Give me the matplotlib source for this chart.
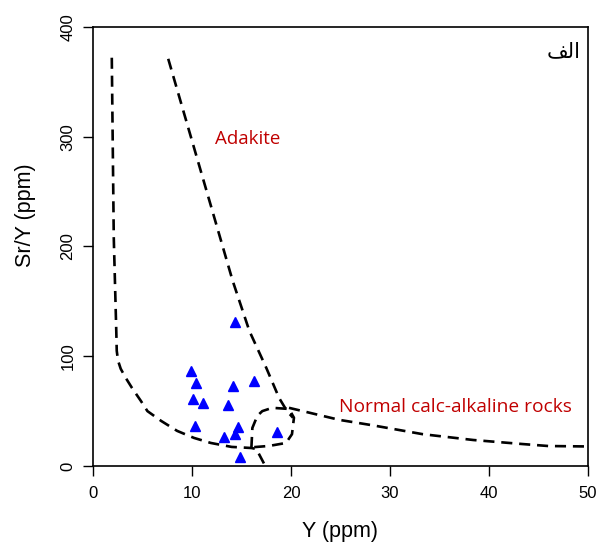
import matplotlib
matplotlib.use('Agg')
import matplotlib.pyplot as plt
import numpy as np

# samples: Y (ppm) and Sr/Y
sampleY = [14.3, 9.9, 10.4, 14.1, 16.3, 10.1, 11.1, 13.6, 10.3, 14.6, 14.3, 13.2, 14.9, 18.6]
sampleSrY = [131, 87, 76, 73, 77, 61, 57, 56, 36.5, 35.6, 29, 26.5, 8.2, 31]

# field boundaries (Defant & Drummond)
adakiteLineX = [7.6, 14.1, 15.8, 17.5, 18.8, 19.6, 20.2]
adakiteLineY = [371, 169, 123, 89.5, 62, 50, 44]

normalLeftX = [1.9, 2.1, 2.36, 2.4, 2.53, 2.8, 3.3, 3.95, 4.83, 5.5, 6.9, 8.5, 10.2, 11.9, 14.0,
               16.0, 16.5, 17.3, 17.5]
normalLeftY = [372, 208, 120.5, 105, 96, 88.6, 80.4, 71, 59.4, 50, 41, 32, 25.6, 21, 17.4,
               16.4, 15.5, 1.8, -2]

loopX = [16.0, 16.1, 16.6, 17.1, 18.1, 19.8, 20.3, 20.1, 19.5, 17.8, 16.0]
loopY = [16.4, 34.7, 45.7, 50, 53, 52, 44, 29, 21, 18.3, 17.0]

normalRightX = [19.8, 24.9, 28.3, 33.3, 38.4, 43.4, 46.0, 50.0]
normalRightY = [53, 42, 37, 29, 23.7, 20, 18.2, 17.8]

xTicks = [0, 10, 20, 30, 40, 50]
yTicks = [0, 100, 200, 300, 400]

tickFont = 'Liberation Sans'
noteFont = 'Open Sans'
noteColor = '#C00000'

fig = plt.figure(figsize=(6.03, 5.43), dpi=100)
ax = fig.add_axes([0.1542, 0.1418, 0.8209, 0.8085])

lineStyle = dict(color='black', linewidth=1.9, linestyle=(0, (4.2, 2.6)))
ax.plot(adakiteLineX, adakiteLineY, **lineStyle)
ax.plot(normalLeftX, normalLeftY, **lineStyle)
ax.plot(loopX, loopY, **lineStyle)
ax.plot(normalRightX, normalRightY, **lineStyle)

ax.plot(sampleY, sampleSrY, linestyle='none', marker='^', markersize=7,
        color='#0000FF', markeredgecolor='#0000FF')

ax.set_xlim(0, 50)
ax.set_ylim(0, 400)
ax.set_xticks(xTicks)
ax.set_yticks(yTicks)
ax.tick_params(direction='out', length=7.5, width=1, labelsize=12)
ax.tick_params(axis='x', pad=7)
ax.tick_params(axis='y', pad=5)
for lab in ax.get_xticklabels():
    lab.set_fontfamily(tickFont)
for lab in ax.get_yticklabels():
    lab.set_fontfamily(tickFont)
    lab.set_rotation(90)
    lab.set_va('center')
for spine in ax.spines.values():
    spine.set_linewidth(1.2)

ax.set_xlabel('Y (ppm)', fontsize=15.5, family=tickFont, va='center')
ax.set_ylabel('Sr/Y (ppm)', fontsize=15.5, family=tickFont, va='center')
ax.xaxis.set_label_coords(0.5, -0.150)
ax.yaxis.set_label_coords(-0.137, 0.571)

ax.text(15.6, 298, 'Adakite', color=noteColor, fontsize=13.5, family=noteFont,
        ha='center', va='center')
ax.text(24.9, 54, 'Normal calc-alkaline rocks', color=noteColor, fontsize=13.8,
        family=noteFont, ha='left', va='center')
ax.text(49.3, 378, '\uFED2\uFEDF\uFE8D', fontsize=15, family=['DejaVu Sans'],
        ha='right', va='center')

fig.savefig('out.png', dpi=100)
